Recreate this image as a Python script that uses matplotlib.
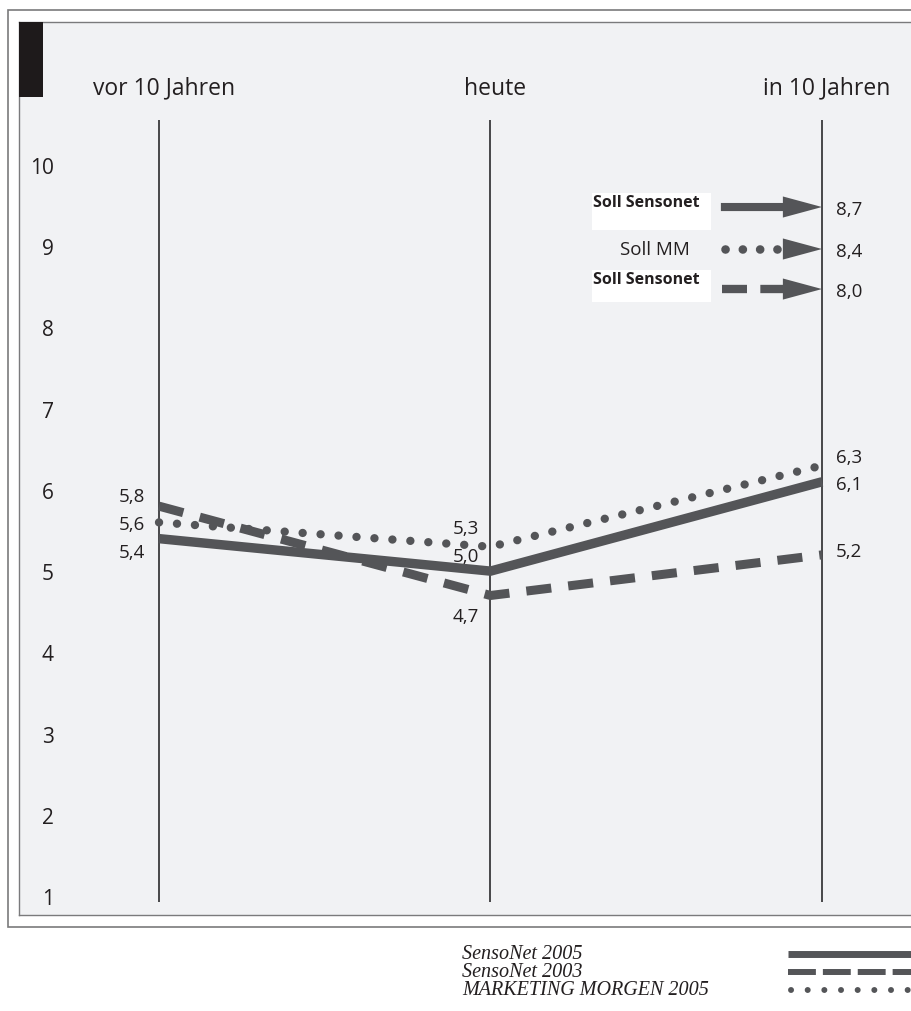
import matplotlib
matplotlib.use("Agg")
import matplotlib.pyplot as plt
from matplotlib.patches import Rectangle
from matplotlib.lines import Line2D
from matplotlib.transforms import ScaledTranslation

plt.rcParams["font.family"] = ["Open Sans", "DejaVu Sans"]

# Survey values (scale 1-10)
periods = ["vor 10 Jahren", "heute", "in 10 Jahren"]
sensonet_2005 = [5.4, 5.0, 6.1]
sensonet_2003 = [5.8, 4.7, 5.2]
mm_2005 = [5.6, 5.3, 6.3]
targets = [8.7, 8.4, 8.0]
target_names = ["Soll Sensonet", "Soll MM", "Soll Sensonet"]
y_ticks = list(range(1, 11))
legend_names = ["SensoNet 2005", "SensoNet 2003", "MARKETING MORGEN 2005"]

INK = "#545558"
TEXT = "#231f20"
PANEL = "#f1f2f4"
FRAME = "#7a7a7c"

fig = plt.figure(figsize=(9.12, 10.12), dpi=100)

# outer white frame
fig.patches.append(Rectangle((8 / 912, 84 / 1012), 1.0, 917 / 1012,
                             transform=fig.transFigure, facecolor="white",
                             edgecolor=FRAME, linewidth=1.2, zorder=-5))

ax = fig.add_axes([19 / 912, 96 / 1012, 893 / 912, 893 / 1012], zorder=1)
ax.set_facecolor(PANEL)
ax.set_xlim(-0.4223, 2.2715)
ax.set_ylim(0.766, 11.761)
for side in ["left", "top", "bottom"]:
    ax.spines[side].set_color(FRAME)
    ax.spines[side].set_linewidth(1.0)
ax.spines["right"].set_visible(False)

x = list(range(len(periods)))

# column headers on top
ax.xaxis.tick_top()
ax.set_xticks(x)
ax.set_xticklabels(periods)
ax.tick_params(axis="x", length=0, pad=-56, labelsize=16.5, labelcolor=TEXT)
shift = ScaledTranslation(5 / 100, 0, fig.dpi_scale_trans)
for lbl in ax.get_xticklabels():
    lbl.set_transform(lbl.get_transform() + shift)

ax.set_yticks(y_ticks)
ax.set_yticklabels([str(v) for v in y_ticks])
ax.tick_params(axis="y", length=0, pad=-25, labelsize=15, labelcolor=TEXT)

# black marker block in the corner
ax.add_patch(Rectangle((0, 1 - 75 / 893), 24 / 893, 75 / 893,
                       transform=ax.transAxes, facecolor="#1e1a1b",
                       edgecolor="none", zorder=3))

ax.vlines(x, 0.93, 10.55, color="#3a3a3c", linewidth=1.3, zorder=1)

ax.plot(x, sensonet_2005, color=INK, linewidth=6.8, solid_capstyle="butt",
        solid_joinstyle="miter", zorder=2)
ax.plot(x, sensonet_2003, color=INK, linewidth=6.5, linestyle=(0, (2.78, 1.89)),
        dash_capstyle="butt", zorder=2)
ax.plot(x, mm_2005, color=INK, linewidth=6.0, linestyle=(0, (0.01, 2.15)),
        dash_capstyle="round", zorder=2)

# value labels, offset from the points (pixels), order: 2005, 2003, MM
offsets = {
    0: [(-14, 13), (-14, -10), (-14, 2)],
    1: [(-11, -15), (-11, 21), (-11, -19)],
    2: [(14, 2), (14, -4), (14, -9)],
}
series = [sensonet_2005, sensonet_2003, mm_2005]
for i in x:
    for s, vals in enumerate(series):
        dx, dy = offsets[i][s]
        ax.annotate(f"{vals[i]:.1f}".replace(".", ","), (i, vals[i]),
                    xytext=(dx * 0.72, -dy * 0.72), textcoords="offset points",
                    ha="left" if i == 2 else "right", va="center",
                    fontsize=13.5, color=TEXT, zorder=4)

# target arrows
arrow_y = [9.483, 8.966, 8.473]
head_len = 0.118
head_w = 0.26
# solid
ax.arrow(1.695, arrow_y[0], 2.0 - 1.695, 0, width=0.1, head_width=head_w,
         head_length=head_len, length_includes_head=True, color=INK,
         linewidth=0, zorder=3)
# dotted
ax.plot([1.707, 1.866], [arrow_y[1]] * 2, color=INK, linewidth=6.2,
        linestyle=(0, (0.01, 2.0)), dash_capstyle="round", zorder=3)
ax.arrow(1.85, arrow_y[1], 2.0 - 1.85, 0, width=0.0, head_width=head_w,
         head_length=head_len, length_includes_head=True, color=INK,
         linewidth=0, zorder=3)
# dashed
ax.plot([1.698, 1.90], [arrow_y[2]] * 2, color=INK, linewidth=6.0,
        linestyle=(0, (3.0, 1.6)), dash_capstyle="butt", zorder=3)
ax.arrow(1.85, arrow_y[2], 2.0 - 1.85, 0, width=0.0, head_width=head_w,
         head_length=head_len, length_includes_head=True, color=INK,
         linewidth=0, zorder=3)

for yv, t in zip(arrow_y, targets):
    ax.text(2.042, yv - 0.02, f"{t:.1f}".replace(".", ","), ha="left",
            va="center", fontsize=13.5, color=TEXT)

# white boxes behind the bold target names
for top, bottom in [(9.655, 9.200), (8.707, 8.313)]:
    ax.add_patch(Rectangle((1.306, bottom), 1.665 - 1.306, top - bottom,
                           facecolor="white", edgecolor="none", zorder=2))
ax.text(1.309, 9.64, target_names[0], ha="left", va="top", fontsize=11.5,
        fontweight="bold", color=TEXT, zorder=3)
ax.text(1.495, arrow_y[1], target_names[1], ha="center", va="center",
        fontsize=13.5, color=TEXT, zorder=3)
ax.text(1.309, 8.695, target_names[2], ha="left", va="top", fontsize=11.5,
        fontweight="bold", color=TEXT, zorder=3)

# legend below the panel
legend_y = [955, 973, 991]
for name, py in zip(legend_names, legend_y):
    fig.text(462 / 912, 1 - py / 1012, name, ha="left", va="center",
             fontsize=14.5, fontstyle="italic", color=TEXT,
             family="Liberation Serif")

fig.add_artist(Line2D([788 / 912, 1.0], [1 - 955 / 1012] * 2,
                      transform=fig.transFigure, color=INK, linewidth=5.0,
                      solid_capstyle="butt"))
fig.add_artist(Line2D([788 / 912, 1.0], [1 - 973 / 1012] * 2,
                      transform=fig.transFigure, color=INK, linewidth=4.3,
                      linestyle=(0, (4.67, 1.17)), dash_capstyle="butt"))
fig.add_artist(Line2D([791 / 912, 1.0], [1 - 991 / 1012] * 2,
                      transform=fig.transFigure, color=INK, linewidth=4.3,
                      linestyle=(0, (0.01, 2.78)), dash_capstyle="round"))

fig.savefig("out.png", dpi=100)
